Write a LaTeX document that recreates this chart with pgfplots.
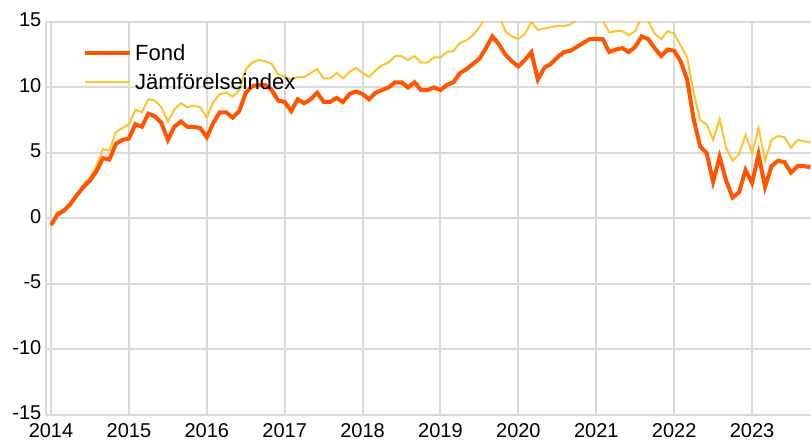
\documentclass[border=0pt]{standalone}
\usepackage{fontspec}
\setmainfont{Liberation Sans}
\usepackage{pgfplots}
\usepackage{pgfplotstable}
\pgfplotsset{compat=1.18}
\definecolor{fondc}{RGB}{255,85,0}
\definecolor{jamfc}{RGB}{252,196,45}
\definecolor{gridc}{RGB}{217,217,217}
\pgfplotstableread{
m fond jamf
0 -0.5 -0.5
1 0.3 0.5
2 0.6 0.7
3 1.1 1.2
4 1.8 1.8
5 2.4 2.6
6 2.9 3.1
7 3.6 4.0
8 4.6 5.3
9 4.5 5.2
10 5.7 6.6
11 6.0 6.9
12 6.1 7.2
13 7.2 8.3
14 7.0 8.1
15 8.0 9.1
16 7.8 9.0
17 7.3 8.5
18 6.0 7.4
19 7.0 8.3
20 7.4 8.8
21 7.0 8.5
22 7.0 8.6
23 6.9 8.5
24 6.2 7.7
25 7.3 8.9
26 8.1 9.5
27 8.1 9.6
28 7.7 9.3
29 8.2 9.8
30 9.6 11.4
31 10.1 11.9
32 10.2 12.1
33 10.2 12.0
34 9.8 11.8
35 9.0 11.0
36 8.9 10.8
37 8.2 10.6
38 9.1 10.8
39 8.8 10.8
40 9.1 11.1
41 9.6 11.4
42 8.9 10.7
43 8.9 10.7
44 9.2 11.1
45 8.9 10.7
46 9.5 11.2
47 9.7 11.5
48 9.5 11.1
49 9.1 10.8
50 9.6 11.3
51 9.8 11.7
52 10.0 11.9
53 10.4 12.4
54 10.4 12.4
55 10.0 12.1
56 10.4 12.4
57 9.8 11.9
58 9.8 11.9
59 10.0 12.3
60 9.8 12.3
61 10.2 12.7
62 10.4 12.8
63 11.1 13.4
64 11.4 13.6
65 11.8 14.0
66 12.2 14.6
67 13.0 15.4
68 13.9 16.0
69 13.3 15.5
70 12.5 14.3
71 12.0 13.9
72 11.6 13.7
73 12.1 14.1
74 12.7 15.0
75 10.6 14.4
76 11.5 14.5
77 11.8 14.6
78 12.3 14.7
79 12.7 14.7
80 12.8 14.8
81 13.1 15.2
82 13.4 15.6
83 13.7 16.0
84 13.7 15.9
85 13.7 15.1
86 12.7 14.2
87 12.9 14.3
88 13.0 14.3
89 12.7 14.0
90 13.1 14.3
91 13.9 15.4
92 13.7 15.1
93 13.0 14.1
94 12.4 13.7
95 12.9 14.3
96 12.8 14.1
97 12.0 13.2
98 10.6 12.3
99 7.6 9.6
100 5.5 7.5
101 5.0 7.2
102 2.8 6.0
103 4.7 7.6
104 2.9 5.4
105 1.6 4.4
106 2.0 4.9
107 3.7 6.4
108 2.7 5.0
109 4.9 6.9
110 2.4 4.4
111 4.0 6.0
112 4.4 6.3
113 4.3 6.2
114 3.5 5.4
115 4.0 6.0
116 4.0 5.9
117 3.9 5.8
}\data
\begin{document}
\begin{tikzpicture}
\begin{axis}[
  scale only axis,
  width=573.75pt, height=294.75pt,
  xmin=-0.77, xmax=117.08,
  ymin=-15, ymax=15,
  xtick={0,12,...,108},
  xticklabels={2014,2015,2016,2017,2018,2019,2020,2021,2022,2023},
  ytick={-15,-10,...,15},
  /pgf/number format/assume math mode=true,
  ticklabel style={font=\fontsize{15}{15}\selectfont},
  xticklabel style={yshift=-2.5pt},
  yticklabel style={yshift=1.5pt},
  tick style={draw=none},
  grid=major,
  major grid style={draw=gridc, line width=1.5pt},
  axis x line*=bottom,
  axis y line*=left,
  axis line style={draw=gridc, line width=1.5pt, -},
  clip=true,
  reverse legend,
  legend cell align=left,
  legend style={at={(0.043,0.958)}, anchor=north west, draw=none, fill=none,
    font=\fontsize{16.5}{16.5}\selectfont, row sep=4.5pt,
    nodes={inner sep=2pt}},
  legend image code/.code={\draw[#1] (0pt,0pt) -- (34pt,0pt);},
]
\addplot[color=jamfc, line width=1.5pt] table[x=m, y=jamf] {\data};
\addplot[color=fondc, line width=3pt] table[x=m, y=fond] {\data};
\legend{Jämförelseindex, Fond}
\end{axis}
\pgfresetboundingbox
\path (-34.5pt,-19.5pt) rectangle (573.75pt,311.25pt);
\end{tikzpicture}
\end{document}
